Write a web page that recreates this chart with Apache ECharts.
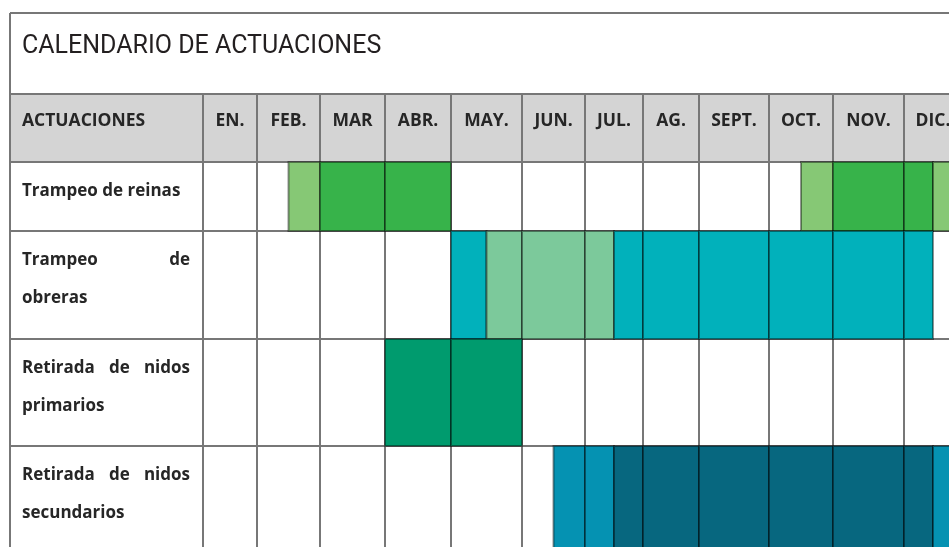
<!DOCTYPE html>
<html>
<head>
<meta charset="utf-8">
<script src="https://cdn.jsdelivr.net/npm/echarts@6/dist/echarts.min.js"></script>
<style>
  html, body { margin: 0; padding: 0; background: #fff; }
  #chart { width: 949px; height: 547px; }
</style>
</head>
<body>
<div id="chart"></div>
<script>
// ---------------- DATA ----------------
const chartTitle = 'CALENDARIO DE ACTUACIONES';
const headerLabel = 'ACTUACIONES';
const months = ['EN.', 'FEB.', 'MAR', 'ABR.', 'MAY.', 'JUN.', 'JUL.', 'AG.', 'SEPT.', 'OCT.', 'NOV.', 'DIC.'];
const activities = ['Trampeo de reinas', 'Trampeo de obreras', 'Retirada de nidos primarios', 'Retirada de nidos secundarios'];
// segments: [start month, end month, intensity]  (0 = start of EN., 12 = end of DIC.)
const trampeoReinas = [[1.5, 2, 'baja'], [2, 4, 'alta'], [9.5, 10, 'baja'], [10, 11.5, 'alta'], [11.5, 12, 'baja']];
const trampeoObreras = [[4, 4.5, 'alta'], [4.5, 6.5, 'baja'], [6.5, 11.5, 'alta']];
const nidosPrimarios = [[3, 5, 'alta']];
const nidosSecundarios = [[5.5, 6.5, 'baja'], [6.5, 11.5, 'alta'], [11.5, 12, 'baja']];
const segmentsByActivity = [trampeoReinas, trampeoObreras, nidosPrimarios, nidosSecundarios];

// ---------------- STYLE / LAYOUT ----------------
const palettes = [
  { baja: '#86c875', alta: '#37b34a' },
  { alta: '#01b1bb', baja: '#7cc99b' },
  { alta: '#009b6e' },
  { baja: '#0592b2', alta: '#07677f' }
];
const LINE = '#777777';
const HEADER_BG = '#d4d4d4';
const TEXT = '#262626';
const FONT = '"Open Sans", "DejaVu Sans", sans-serif';
const labelColumn = [10, 203];
const colEdges = [203, 257, 320, 385, 451, 522, 585, 643, 699, 769, 833, 904, 962];
const rowEdges = [94, 162, 231, 339, 446, 553];

const grid = [], xAxis = [], yAxis = [], series = [], graphic = [];

function addCell(left, right, top, bottom, bg, xMin, xMax, cat, name) {
  const gi = grid.length;
  grid.push({
    left: left, top: top, width: right - left, height: bottom - top,
    show: true, backgroundColor: bg, borderColor: LINE, borderWidth: 2,
    containLabel: false, outerBoundsMode: 'none'
  });
  xAxis.push({
    gridIndex: gi, type: 'value', min: xMin, max: xMax, position: 'bottom',
    axisLine: { show: false }, axisTick: { show: false }, axisLabel: { show: false }, splitLine: { show: false },
    name: name || '', nameLocation: 'middle', nameGap: -41, nameMoveOverlap: false,
    nameTextStyle: { fontFamily: FONT, fontWeight: 'bold', fontSize: 17.5, color: TEXT, verticalAlign: 'middle', align: 'center' }
  });
  yAxis.push({
    gridIndex: gi, type: 'category', data: [cat],
    axisLine: { show: false }, axisTick: { show: false }, axisLabel: { show: false }, splitLine: { show: false }
  });
  return gi;
}

// header row
addCell(labelColumn[0], labelColumn[1], rowEdges[0], rowEdges[1], HEADER_BG, 0, 1, headerLabel, '');
months.forEach(function (m, i) {
  addCell(colEdges[i], colEdges[i + 1], rowEdges[0], rowEdges[1], HEADER_BG, i, i + 1, headerLabel, m);
});

// body rows
function renderBar(params, api) {
  const s = api.value(0), e = api.value(1);
  const p0 = api.coord([s, 0]);
  const p1 = api.coord([e, 0]);
  const h = api.size([0, 1])[1];
  const cs = params.coordSys;
  const rect = echarts.graphic.clipRectByRect(
    { x: p0[0], y: p0[1] - h / 2, width: p1[0] - p0[0], height: h },
    { x: cs.x, y: cs.y, width: cs.width, height: cs.height }
  );
  if (!rect) return;
  return {
    type: 'rect', shape: rect,
    style: { fill: api.visual('color'), stroke: 'rgba(0,0,0,0.42)', lineWidth: 2 }
  };
}

activities.forEach(function (act, r) {
  addCell(labelColumn[0], labelColumn[1], rowEdges[r + 1], rowEdges[r + 2], '#ffffff', 0, 1, act, '');
  months.forEach(function (m, i) {
    const gi = addCell(colEdges[i], colEdges[i + 1], rowEdges[r + 1], rowEdges[r + 2], '#ffffff', i, i + 1, act, '');
    const data = segmentsByActivity[r]
      .filter(function (sg) { return sg[0] < i + 1 && sg[1] > i; })
      .map(function (sg) {
        return { value: [sg[0], sg[1], 0], itemStyle: { color: palettes[r][sg[2]] } };
      });
    if (data.length) {
      series.push({
        type: 'custom', xAxisIndex: gi, yAxisIndex: gi, silent: true, clip: false, z: 2,
        encode: { x: [0, 1], y: 2 }, data: data, renderItem: renderBar
      });
    }
  });
});

// outer frame (title box)
graphic.push({ type: 'line', shape: { x1: labelColumn[0], y1: 13, x2: 990, y2: 13 }, style: { stroke: LINE, lineWidth: 2 }, silent: true });
graphic.push({ type: 'line', shape: { x1: labelColumn[0], y1: 13, x2: labelColumn[0], y2: rowEdges[0] }, style: { stroke: LINE, lineWidth: 2 }, silent: true });

// header first-column label
graphic.push({
  type: 'text', x: 22, y: 121, silent: true,
  style: { text: headerLabel, font: 'bold 17.5px ' + FONT, fill: TEXT, verticalAlign: 'middle', align: 'left' }
});

// justified activity labels
const ctx = document.createElement('canvas').getContext('2d');
const labelFont = 'bold 17px ' + FONT;
ctx.font = labelFont;
const textLeft = 22, textRight = 190, breakWidth = 164, lineGap = 38;
activities.forEach(function (act, r) {
  const words = act.split(' ');
  const spaceW = ctx.measureText(' ').width;
  const lines = [];
  let cur = [];
  words.forEach(function (w) {
    const test = cur.concat([w]).join(' ');
    if (cur.length && ctx.measureText(test).width > breakWidth) { lines.push(cur); cur = [w]; }
    else cur.push(w);
  });
  if (cur.length) lines.push(cur);
  lines.forEach(function (ws, li) {
    const y = rowEdges[r + 1] + 29 + li * lineGap;
    const isLast = li === lines.length - 1;
    const widths = ws.map(function (w) { return ctx.measureText(w).width; });
    const total = widths.reduce(function (a, b) { return a + b; }, 0);
    const gap = (!isLast && ws.length > 1) ? (textRight - textLeft - total) / (ws.length - 1) : spaceW;
    let x = textLeft;
    ws.forEach(function (w, wi) {
      graphic.push({
        type: 'text', x: x, y: y, silent: true,
        style: { text: w, font: labelFont, fill: TEXT, verticalAlign: 'middle', align: 'left' }
      });
      x += widths[wi] + gap;
    });
  });
});

const chart = echarts.init(document.getElementById('chart'), null, { renderer: 'canvas' });
chart.setOption({
  animation: false,
  backgroundColor: '#ffffff',
  title: {
    text: chartTitle, left: 22, top: 34, padding: 0,
    textStyle: { fontFamily: 'Roboto, "Open Sans", sans-serif', fontWeight: 'normal', fontSize: 25, color: '#231f20' }
  },
  grid: grid, xAxis: xAxis, yAxis: yAxis, series: series,
  graphic: { elements: graphic }
});
</script>
</body>
</html>
